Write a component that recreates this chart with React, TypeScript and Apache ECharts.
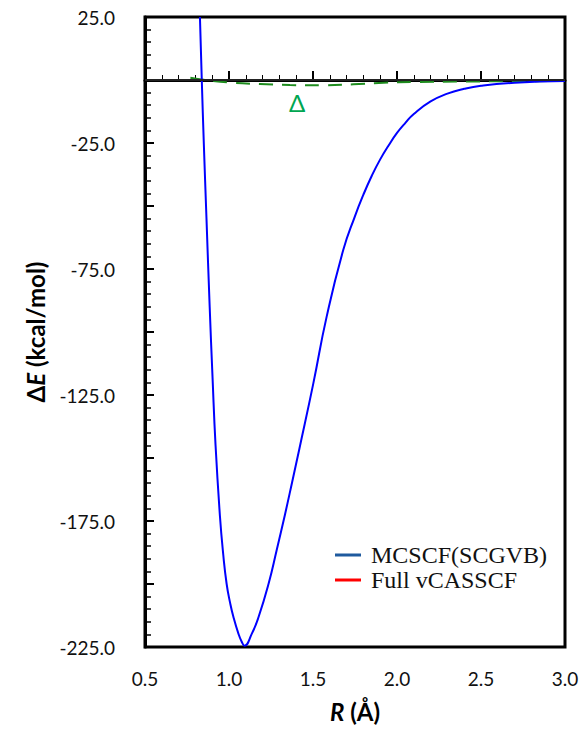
import React, { useEffect, useRef } from "react";
import * as echarts from "echarts";

// MCSCF / vCASSCF potential curve (blue)
const curveR = [0.827, 0.838, 0.85, 0.866, 0.885, 0.902, 0.92, 0.946, 0.966, 0.986, 1.006, 1.026, 1.056, 1.075, 1.092, 1.136, 1.176, 1.236, 1.284, 1.333, 1.376, 1.419, 1.502, 1.581, 1.68, 1.75, 1.8, 1.85, 1.9, 1.95, 2.0, 2.05, 2.1, 2.2, 2.3, 2.4, 2.5, 2.7, 3.0];
const curveE = [25, 0, -25, -55, -90, -118, -145, -173, -188.5, -200, -207.3, -213, -219.7, -222.8, -224.5, -219.7, -213.1, -199.8, -186.5, -172.5, -159.5, -146.3, -120.4, -94, -67.5, -54, -45.5, -38, -31.5, -26, -21, -17, -13.5, -8.5, -5.4, -3.5, -2.3, -1.1, -0.4];

// Difference curve Δ (green dashed)
const deltaR = [0.77, 0.85, 1.0, 1.185, 1.363, 1.552, 1.74, 1.92, 2.1, 2.4, 2.7, 3.0];
const deltaE = [0.9, 0.1, -1.0, -1.6, -2.0, -2.1, -1.7, -1.1, -0.8, -0.6, -0.5, -0.4];

// Δ annotation location (data coordinates)
const deltaLabelAt = [1.405, -9.1];

const legendNames = ["MCSCF(SCGVB)", "Full vCASSCF"];
const legendColors = ["#1f5a9e", "#ff0000"];

const xMin = 0.5, xMax = 3.0, xStep = 0.5;
const yMin = -225, yMax = 25, yStep = 25, yLabelStep = 50;

const tickFont = "Lato, 'DejaVu Sans', sans-serif";

export default function App() {
  const ref = useRef<HTMLDivElement>(null);
  useEffect(() => {
    const chart = echarts.init(ref.current!, null, { renderer: "svg" });
    const curve = curveR.map((r, i) => [r, curveE[i]]);
    const delta = deltaR.map((r, i) => [r, deltaE[i]]);
    chart.setOption({
      animation: false,
      backgroundColor: "#fff",
      grid: { left: 145, right: 17, top: 17, bottom: 91, show: true, borderColor: "#000", borderWidth: 3, backgroundColor: "transparent" },
      legend: {
        data: legendNames.map((n, i) => ({ name: n, itemStyle: { color: legendColors[i] } })),
        orient: "vertical",
        left: 330,
        top: 538,
        icon: "rect",
        itemWidth: 26,
        itemHeight: 3,
        itemGap: 1,
        textStyle: { fontFamily: "'Liberation Serif', 'Times New Roman', serif", fontSize: 24, color: "#111", padding: [0, 0, 0, 5] },
      },
      xAxis: {
        type: "value",
        min: xMin,
        max: xMax,
        interval: xStep,
        name: "{r|R}{n| (Å)}",
        nameLocation: "middle",
        nameGap: 52,
        nameTextStyle: {
          rich: {
            r: { fontFamily: tickFont, fontSize: 24, fontWeight: "bold", fontStyle: "italic", color: "#000" },
            n: { fontFamily: tickFont, fontSize: 24, fontWeight: "bold", color: "#000" },
          },
        },
        axisLine: { lineStyle: { color: "#000", width: 3 } },
        axisTick: { inside: true, length: 9, lineStyle: { color: "#000", width: 2 } },
        minorTick: { show: true, splitNumber: 5, length: 5, lineStyle: { color: "#000", width: 1 } },
        splitLine: { show: false },
        axisLabel: { margin: 22, fontFamily: tickFont, fontSize: 19, color: "#111", formatter: (v: number) => v.toFixed(1) },
      },
      yAxis: {
        type: "value",
        min: yMin,
        max: yMax,
        interval: yStep,
        name: "{d|Δ}{e|E}{n| (kcal/mol)}",
        nameLocation: "middle",
        nameGap: 98,
        nameTextStyle: {
          rich: {
            d: { fontFamily: tickFont, fontSize: 24, fontWeight: "bold", color: "#000" },
            e: { fontFamily: tickFont, fontSize: 24, fontWeight: "bold", fontStyle: "italic", color: "#000" },
            n: { fontFamily: tickFont, fontSize: 24, fontWeight: "bold", color: "#000" },
          },
        },
        axisLine: { lineStyle: { color: "#000", width: 3 } },
        axisTick: { inside: true, length: 9, lineStyle: { color: "#000", width: 2 } },
        minorTick: { show: true, splitNumber: 5, length: 6, lineStyle: { color: "#000", width: 1.5 } },
        splitLine: { show: false },
        axisLabel: {
          margin: 30,
          fontFamily: tickFont,
          fontSize: 19,
          color: "#111",
          formatter: (v: number) => (Math.round(v - yMin) % yLabelStep === 0 ? v.toFixed(1) : ""),
        },
      },
      series: [
        {
          type: "line",
          name: "__delta",
          data: delta,
          showSymbol: false,
          smooth: 0.4,
          lineStyle: { color: "#1e8c1e", width: 2, type: [14, 9] },
          z: 3,
          markLine: {
            silent: true,
            symbol: "none",
            label: { show: false },
            lineStyle: { color: "#222", width: 2, type: "solid" },
            data: [{ yAxis: 0 }],
          },
          markPoint: {
            silent: true,
            symbol: "circle",
            symbolSize: 0,
            data: [{ coord: deltaLabelAt, value: "Δ" }],
            label: { show: true, position: "inside", formatter: "Δ", color: "#00a651", fontSize: 24, fontFamily: tickFont },
          },
        },
        {
          type: "line",
          name: "__curve",
          data: curve,
          showSymbol: false,
          smooth: 0.5,
          lineStyle: { color: "#0000ff", width: 2 },
          z: 4,
        },
        { type: "line", name: legendNames[0], data: [], itemStyle: { color: legendColors[0] }, lineStyle: { color: legendColors[0] } },
        { type: "line", name: legendNames[1], data: [], itemStyle: { color: legendColors[1] }, lineStyle: { color: legendColors[1] } },
      ],
    });
    return () => chart.dispose();
  }, []);
  return <div ref={ref} style={{ width: 582, height: 738, position: "absolute", left: 0, top: 0 }} />;
}
